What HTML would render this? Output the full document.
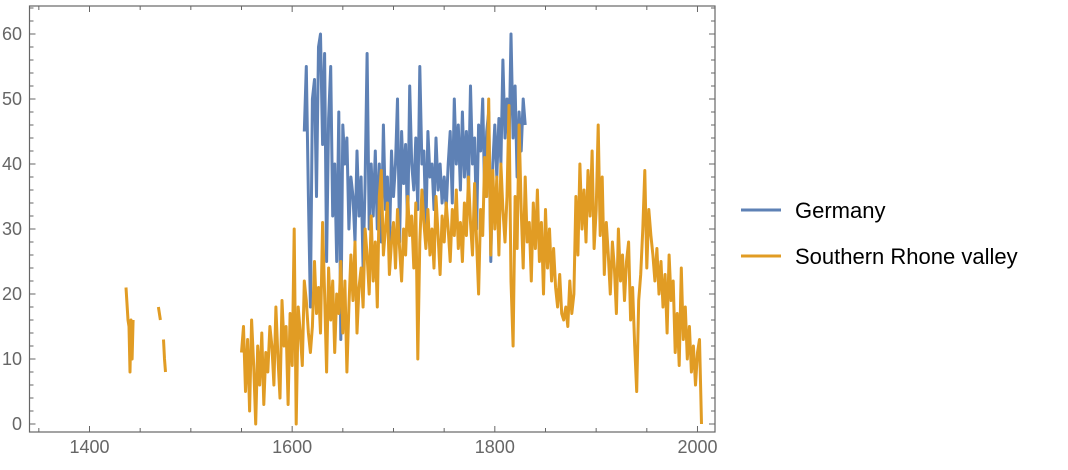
<!DOCTYPE html>
<html><head><meta charset="utf-8"><style>
html,body{margin:0;padding:0;background:#fff;width:1068px;height:470px;overflow:hidden}
svg{display:block;font-family:"Liberation Sans",sans-serif}
</style></head><body>
<svg id="chart" width="1068" height="470" viewBox="0 0 1068 470">
<g id="axes"></g>
<g id="series"></g>
<g>
<g>
<line x1="741" y1="210" x2="781" y2="210" stroke="#5E81B5" stroke-width="3"/>
<text x="795" y="218" font-size="22" fill="#000">Germany</text></g>
<g>
<line x1="741" y1="256" x2="781" y2="256" stroke="#E19C24" stroke-width="3"/>
<text x="795" y="264" font-size="22" fill="#000">Southern Rhone valley</text></g>
</g>
</svg>
<script>
const germanyStart = 1612;
const germanyStep = 2;
const germanyValues = [45,55,35,18,50,53,35,58,60,43,57,25,47,55,32,40,25,48,13,46,40,44,30,38,35,28,42,32,38,24,37,57,30,40,32,42,30,40,28,46,33,38,27,42,35,40,50,28,45,37,43,30,52,40,36,44,33,55,40,42,30,45,38,40,33,44,36,40,34,38,33,40,45,34,50,40,46,36,48,38,45,36,52,40,44,30,46,42,50,35,45,48,25,40,46,38,47,40,56,44,50,42,60,44,52,38,48,42,50,46];
const rhoneEarlyYears = [1436,1438,1439,1440,1441,1442,1443,null,1468,1469,1470,null,1473,1474,1475];
const rhoneEarlyValues = [21,16,15,8,16,10,16,null,18,17,16,null,13,10,8];
const rhoneStart = 1550;
const rhoneStep = 2;
const rhoneValues = [11,15,5,13,2,16,9,0,12,6,14,3,11,8,15,12,6,18,10,4,19,12,15,3,17,9,30,0,18,14,9,22,19,14,11,15,25,17,21,14,31,20,8,24,16,22,11,20,17,25,14,22,8,18,26,19,28,14,21,24,18,30,26,20,32,22,28,18,35,39,26,30,34,23,28,31,24,33,27,22,30,26,35,29,32,24,34,10,28,36,31,27,33,26,30,24,35,29,23,32,28,34,30,25,33,29,36,27,31,25,34,29,38,31,26,37,28,20,33,29,41,35,50,26,39,30,38,26,40,33,28,35,49,22,12,35,27,46,33,24,38,28,31,22,34,27,36,25,31,20,33,24,30,22,27,21,18,23,17,16,18,15,22,17,20,35,26,40,30,36,28,39,32,42,27,33,46,29,38,23,31,26,20,28,24,17,30,22,26,19,25,28,16,21,12,5,19,23,30,39,24,33,29,26,22,27,20,25,18,23,14,26,19,22,11,17,9,24,13,18,10,15,8,12,6,11,13,0];
const xTickLabels = [1400,1600,1800,2000];
const yTickLabels = [0,10,20,30,40,50,60];

const X0=29.5,X1=715,Y0=6,Y1=432;
const xs = y => 89.5 + (y-1400)*1.0133;
const ys = v => 424 - v*6.5;
const NS="http://www.w3.org/2000/svg";
function mk(tag, attrs, parent){const e=document.createElementNS(NS,tag);for(const k in attrs)e.setAttribute(k,attrs[k]);parent.appendChild(e);return e;}
const axes=document.getElementById('axes');
const frame=mk('rect',{x:X0,y:Y0,width:X1-X0,height:Y1-Y0,fill:'none',stroke:'#666',"stroke-width":1.2},axes);


for(let yr=1350;yr<=2010;yr+=50){
  const major = yr%200===0;
  const len = major?6:4;
  const x=xs(yr);
  const t1=mk('line',{x1:x,x2:x,y1:Y1,y2:Y1-len,stroke:'#666'},axes);
  
  
  const t2=mk('line',{x1:x,x2:x,y1:Y0,y2:Y0+len,stroke:'#666'},axes);
  
  
}
xTickLabels.forEach(v=>{const t=mk('text',{x:xs(v),y:453,"text-anchor":"middle","font-size":18,fill:'#666'},axes);t.textContent=v;
  
  });
for(let v=0;v<=64;v+=2){
  const major=v%10===0;const len=major?6:4;const y=ys(v);
  const a=mk('line',{x1:X0,x2:X0+len,y1:y,y2:y,stroke:'#666'},axes);
  
  
  const b=mk('line',{x1:X1,x2:X1-len,y1:y,y2:y,stroke:'#666'},axes);
  
  
}
yTickLabels.forEach(v=>{const t=mk('text',{x:22,y:ys(v)+6,"text-anchor":"end","font-size":18,fill:'#666'},axes);t.textContent=v;
  
  });

const ser=document.getElementById('series');
function pathFrom(years, vals){let d='',pen=false;for(let i=0;i<years.length;i++){if(years[i]===null||vals[i]===null){pen=false;continue;}d+=(pen?'L':'M')+xs(years[i]).toFixed(1)+','+ys(vals[i]).toFixed(1);pen=true;}return d;}
const rYears = rhoneValues.map((_,i)=>rhoneStart+i*rhoneStep);
const gYears = germanyValues.map((_,i)=>germanyStart+i*germanyStep);
const pg=mk('path',{d:pathFrom(gYears,germanyValues),fill:'none',stroke:'#5E81B5',"stroke-width":3,"stroke-linejoin":"round"},ser);


const pr=mk('path',{d:pathFrom(rhoneEarlyYears,rhoneEarlyValues)+pathFrom(rYears,rhoneValues),fill:'none',stroke:'#E19C24',"stroke-width":3,"stroke-linejoin":"round"},ser);


</script>
</body></html>
